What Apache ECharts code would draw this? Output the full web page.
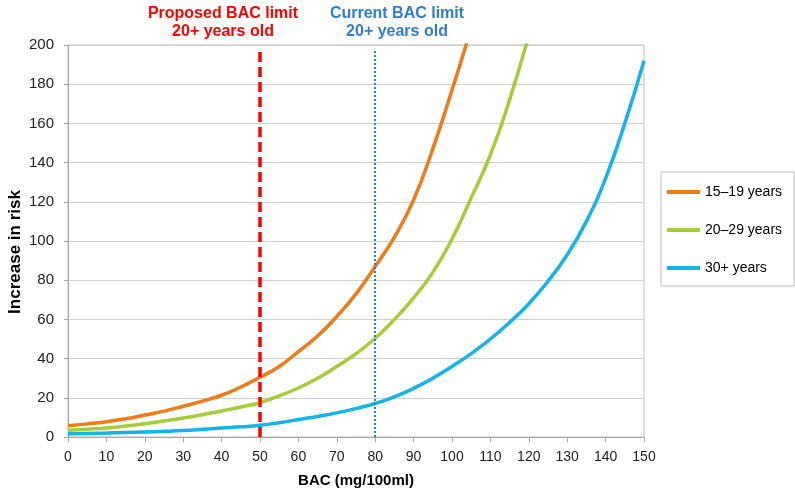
<!DOCTYPE html>
<html>
<head>
<meta charset="utf-8">
<script src="https://cdn.jsdelivr.net/npm/echarts@6/dist/echarts.min.js"></script>
<style>html,body{margin:0;padding:0;background:#fff}#c{width:795px;height:488px}</style>
</head>
<body>
<div id="c"></div>
<script>
const bac = [0,5,10,15,20,25,30,35,40,45,50,55,60,65,70,75,80,85,90,95,100,105,110,115,120,125,130,135,140,145,150];
const risk1519 = [5.8,6.7,7.8,9.3,11.2,13.2,15.7,18.3,21.3,25.5,30.5,36,43.6,51.5,61.5,73,87,102,121,147,177,209,245,null,null,null,null,null,null,null,null];
const risk2029 = [3.5,4,4.6,5.6,6.8,8.2,9.7,11.4,13.3,15.3,17.5,21,25,30,36,42.5,50.4,60,71,84,101,122,144,172,205,null,null,null,null,null,null];
const risk30 = [1.7,1.8,2.0,2.3,2.6,2.9,3.3,3.9,4.6,5.2,6,7.3,8.9,10.5,12.3,14.5,17.1,20.5,24.8,30,36,42.5,50,58.5,68,79.5,93,110,132,160,192];
const seriesNames = ['15–19 years','20–29 years','30+ years'];
const proposedLimit = 50;
const currentLimit = 80;
const xTicks = {min:0, max:150, interval:10};
const yTicks = {min:0, max:200, interval:20};

const toPairs = arr => bac.map((x,i)=>[x,arr[i]]).filter(p=>p[1]!==null);
const colors = ['#F27A12','#A6CC38','#12B4EC'];
const font = 'Liberation Sans, Arial, sans-serif';

const chart = echarts.init(document.getElementById('c'), null, {renderer:'canvas'});
chart.setOption({
  animation:false,
  backgroundColor:'#fff',
  grid:{left:68,right:151,top:45,bottom:51,show:true,borderColor:'#BFBFBF',borderWidth:1,
    containLabel:false,outerBoundsMode:'none'},
  xAxis:{type:'value',min:xTicks.min,max:xTicks.max,interval:xTicks.interval,
    name:'BAC (mg/100ml)',nameLocation:'middle',nameGap:36,
    nameTextStyle:{fontFamily:font,fontSize:15,fontWeight:'bold',color:'#000'},
    axisLine:{lineStyle:{color:'#A6A6A6'}},axisTick:{show:true,length:5,lineStyle:{color:'#A6A6A6'}},
    axisLabel:{fontFamily:font,fontSize:14,color:'#222',margin:13},
    splitLine:{show:false}},
  yAxis:{type:'value',min:yTicks.min,max:yTicks.max,interval:yTicks.interval,
    axisLine:{show:true,lineStyle:{color:'#A6A6A6'}},axisTick:{show:true,length:4,lineStyle:{color:'#A6A6A6'}},
    axisLabel:{fontFamily:font,fontSize:15,color:'#222',margin:14},
    splitLine:{lineStyle:{color:'#CFCFCF',width:1}}},
  legend:{orient:'vertical',left:661,top:172,padding:[12,12,10,6],
    borderColor:'#BFBFBF',borderWidth:1,itemWidth:33,itemHeight:4,itemGap:22,icon:'rect',
    textStyle:{fontFamily:font,fontSize:14,color:'#000',lineHeight:16},
    data:seriesNames},
  series:[
    ...[risk1519,risk2029,risk30].map((arr,i)=>({
      name:seriesNames[i],type:'line',data:toPairs(arr),smooth:true,showSymbol:false,
      clip:true,lineStyle:{width:3.5,color:colors[i]},itemStyle:{color:colors[i]}})),
    {type:'line',data:[],z:10,silent:true,
      markLine:{symbol:'none',silent:true,label:{show:false},
        data:[
          [{coord:[proposedLimit,0],lineStyle:{color:'#FF0000',width:3.5,type:[10,5]}},{coord:[proposedLimit,198]}],
          [{coord:[currentLimit,0],lineStyle:{color:'#2E7FCF',width:2,type:[2,2]}},{coord:[currentLimit,198]}]
        ]}}
  ],
  graphic:[
    {type:'text',x:223,y:5,style:{text:'Proposed BAC limit\n20+ years old',fill:'#FF0000',font:'bold 16px '+font,align:'center',lineHeight:18}},
    {type:'text',x:397,y:5,style:{text:'Current BAC limit\n20+ years old',fill:'#2E7FCF',font:'bold 16px '+font,align:'center',lineHeight:18}},
    {type:'text',x:15,y:252,rotation:Math.PI/2,style:{text:'Increase in risk',fill:'#000',font:'bold 17px '+font,align:'center',verticalAlign:'middle'}}
  ]
});
</script>
</body>
</html>
